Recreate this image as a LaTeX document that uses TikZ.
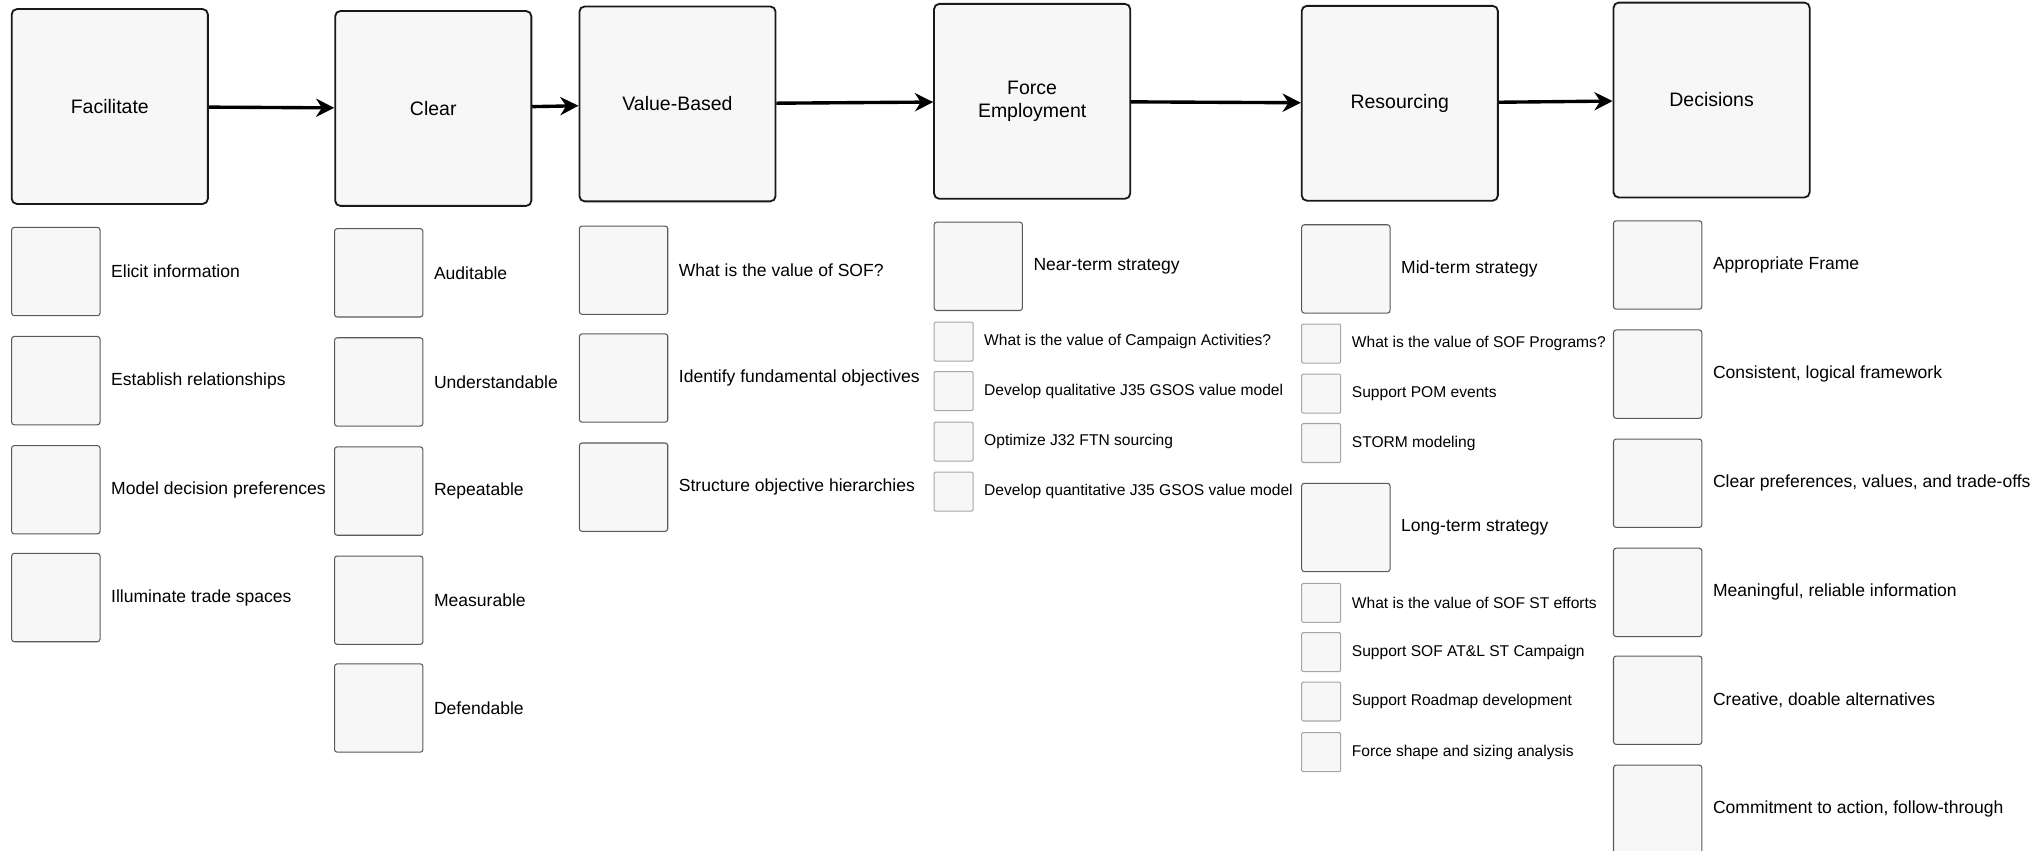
\documentclass[tikz,border=0pt]{standalone}
\usepackage{fontspec}
\setmainfont{Liberation Sans}
\usetikzlibrary{arrows.meta,positioning}

\begin{document}
\begin{tikzpicture}[x=1pt, y=-1pt,
  stage/.style={draw=black!90, line width=1.4pt, fill=black!3, rounded corners=4pt,
    minimum width=151pt, minimum height=150pt, align=center,
    font=\fontsize{15}{17}\selectfont},
  itembox/.style={draw=black!65, line width=0.8pt, fill=black!3, rounded corners=2pt,
    minimum size=68pt, inner sep=0pt},
  subbox/.style={draw=black!35, line width=0.8pt, fill=black!3, rounded corners=1pt,
    minimum size=30pt, inner sep=0pt},
  itemtxt/.style={inner sep=0pt, font=\fontsize{13.5}{16}\selectfont},
  subtxt/.style={inner sep=0pt, font=\fontsize{12}{14}\selectfont},
  flow/.style={line width=2.6pt, -{Stealth[length=14pt, width=14pt, inset=4.5pt]}}]

\useasboundingbox (0,0) rectangle (1568,655);
\clip (0,0) rectangle (1568,655);

% Top row of stages
\node[stage] (facil)    at (84.5,82)   {Facilitate};
\node[stage] (clear)    at (333.5,83.5) {Clear};
\node[stage] (valbased) at (521.5,80)  {Value-Based};
\node[stage] (forceemp) at (794.5,78)  {Force\\Employment};
\node[stage] (resrc)    at (1077.5,79.5) {Resourcing};
\node[stage] (decis)    at (1317.5,77) {Decisions};

% Arrows between stages
\draw[flow] (facil) -- (clear);
\draw[flow] (clear) -- (valbased);
\draw[flow] (valbased) -- (forceemp);
\draw[flow] (forceemp) -- (resrc);
\draw[flow] (resrc) -- (decis);

% Facilitate column
\node[itembox] (fac1) at (43,209) {};
\node[itemtxt, right=8pt of fac1] (fac1t) {Elicit information};
\node[itembox] (fac2) at (43,293) {};
\node[itemtxt, right=8pt of fac2] (fac2t) {Establish relationships};
\node[itembox] (fac3) at (43,377) {};
\node[itemtxt, right=8pt of fac3] (fac3t) {Model decision preferences};
\node[itembox] (fac4) at (43,460) {};
\node[itemtxt, right=8pt of fac4] (fac4t) {Illuminate trade spaces};

% Clear column
\node[itembox] (clr1) at (291.5,210) {};
\node[itemtxt, right=8pt of clr1] (clr1t) {Auditable};
\node[itembox] (clr2) at (291.5,294) {};
\node[itemtxt, right=8pt of clr2] (clr2t) {Understandable};
\node[itembox] (clr3) at (291.5,378) {};
\node[itemtxt, right=8pt of clr3] (clr3t) {Repeatable};
\node[itembox] (clr4) at (291.5,462) {};
\node[itemtxt, right=8pt of clr4] (clr4t) {Measurable};
\node[itembox] (clr5) at (291.5,545) {};
\node[itemtxt, right=8pt of clr5] (clr5t) {Defendable};

% Value-Based column
\node[itembox] (val1) at (480,208) {};
\node[itemtxt, right=8pt of val1] (val1t) {What is the value of SOF?};
\node[itembox] (val2) at (480,291) {};
\node[itemtxt, right=8pt of val2] (val2t) {Identify fundamental objectives};
\node[itembox] (val3) at (480,375) {};
\node[itemtxt, right=8pt of val3] (val3t) {Structure objective hierarchies};

% Force Employment column
\node[itembox] (near) at (753,205) {};
\node[itemtxt, right=8pt of near] (neart) {Near-term strategy};
\node[subbox] (near1) at (734,263) {};
\node[subtxt, right=8pt of near1] (near1t) {What is the value of Campaign Activities?};
\node[subbox] (near2) at (734,301) {};
\node[subtxt, right=8pt of near2] (near2t) {Develop qualitative J35 GSOS value model};
\node[subbox] (near3) at (734,340) {};
\node[subtxt, right=8pt of near3] (near3t) {Optimize J32 FTN sourcing};
\node[subbox] (near4) at (734,378.5) {};
\node[subtxt, right=8pt of near4] (near4t) {Develop quantitative J35 GSOS value model};

% Resourcing column
\node[itembox] (mid) at (1036,207) {};
\node[itemtxt, right=8pt of mid] (midt) {Mid-term strategy};
\node[subbox] (mid1) at (1017,264.5) {};
\node[subtxt, right=8pt of mid1] (mid1t) {What is the value of SOF Programs?};
\node[subbox] (mid2) at (1017,303) {};
\node[subtxt, right=8pt of mid2] (mid2t) {Support POM events};
\node[subbox] (mid3) at (1017,341) {};
\node[subtxt, right=8pt of mid3] (mid3t) {STORM modeling};
\node[itembox] (long) at (1036,406) {};
\node[itemtxt, right=8pt of long] (longt) {Long-term strategy};
\node[subbox] (long1) at (1017,464) {};
\node[subtxt, right=8pt of long1] (long1t) {What is the value of SOF ST efforts};
\node[subbox] (long2) at (1017,502) {};
\node[subtxt, right=8pt of long2] (long2t) {Support SOF AT\&L ST Campaign};
\node[subbox] (long3) at (1017,540) {};
\node[subtxt, right=8pt of long3] (long3t) {Support Roadmap development};
\node[subbox] (long4) at (1017,579) {};
\node[subtxt, right=8pt of long4] (long4t) {Force shape and sizing analysis};

% Decisions column
\node[itembox] (dec1) at (1276,204) {};
\node[itemtxt, right=8pt of dec1] (dec1t) {Appropriate Frame};
\node[itembox] (dec2) at (1276,288) {};
\node[itemtxt, right=8pt of dec2] (dec2t) {Consistent, logical framework};
\node[itembox] (dec3) at (1276,372) {};
\node[itemtxt, right=8pt of dec3] (dec3t) {Clear preferences, values, and trade-offs};
\node[itembox] (dec4) at (1276,456) {};
\node[itemtxt, right=8pt of dec4] (dec4t) {Meaningful, reliable information};
\node[itembox] (dec5) at (1276,539) {};
\node[itemtxt, right=8pt of dec5] (dec5t) {Creative, doable alternatives};
\node[itembox] (dec6) at (1276,623) {};
\node[itemtxt, right=8pt of dec6] (dec6t) {Commitment to action, follow-through};

\end{tikzpicture}
\end{document}
